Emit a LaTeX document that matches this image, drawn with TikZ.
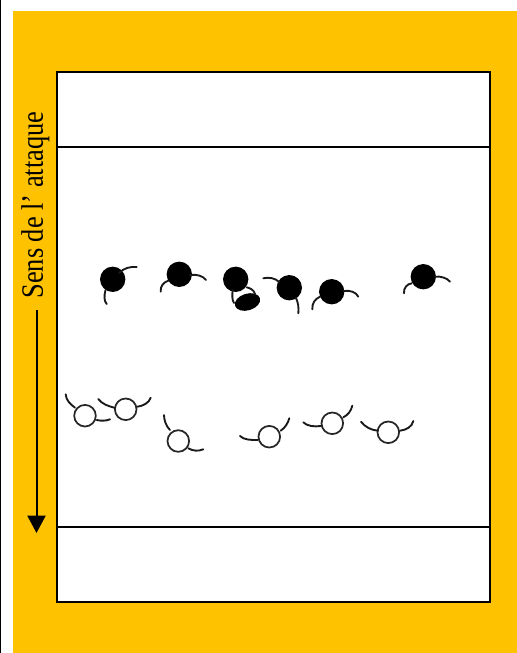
\documentclass[tikz,border=0pt]{standalone}
\usepackage{fontspec}
\setmainfont{Liberation Serif}
\usetikzlibrary{shapes.geometric,arrows.meta}
\definecolor{pageorange}{HTML}{FFC200}
\tikzset{
  x=0.75pt,y=-0.75pt,
  pitch/.style={draw=black,fill=white,line width=1.2pt},
  line/.style={draw=black,line width=1.2pt},
  blackp/.style={circle,fill=black,minimum size=19pt,inner sep=0pt,outer sep=0pt},
  whitep/.style={circle,draw=black!85,fill=white,line width=1.3pt,minimum size=16.2pt,inner sep=0pt,outer sep=0pt},
  arm/.style={draw=black!90,line width=1.4pt,line cap=round},
}
\begin{document}
\begin{tikzpicture}
\useasboundingbox (0,0) rectangle (517,653);
\fill[white] (0,0) rectangle (517,653);
\fill[black] (0,0) rectangle (1,653);
\fill[pageorange] (13,11) rectangle (517,653);
\path[pitch] (57,72) rectangle (490,602);
\coordinate (la) at (57,147); \coordinate (lb) at (490,147);
\coordinate (lc) at (57,527); \coordinate (ld) at (490,527);
\draw[line] (la) -- (lb);
\draw[line] (lc) -- (ld);
% attack label and arrow
\node[rotate=90,inner sep=0pt,font=\fontsize{22}{22}\selectfont,xscale=0.9,yscale=1.06] (sens) at (35.5,205) {Sens de l’ attaque};
\coordinate (as) at (36.5,310); \coordinate (ae) at (36.5,533);
\draw[line width=1.5pt,-{Triangle[length=13pt,width=13.5pt]}] (as) -- (ae);
% black players
\node[blackp] (b1) at (112.7,279.3) {};
\node[blackp] (b2) at (179.3,274.3) {};
\node[blackp] (b3) at (235.7,279.3) {};
\node[blackp] (b4) at (289.3,287.7) {};
\node[blackp] (b5) at (331.7,291.7) {};
\node[blackp] (b6) at (423.3,276.7) {};
\node[ellipse,fill=black,minimum width=19.5pt,minimum height=12.5pt,inner sep=0pt,rotate=17] (ball) at (247.5,302) {};
\draw[arm] (119,273) .. controls (124,268) and (130,266.5) .. (136.7,267);
\draw[arm] (105.5,290) .. controls (104,296) and (104,301) .. (106.7,304);
\draw[arm] (168.3,280.7) .. controls (164,282) and (160,286) .. (160.7,291.7);
\draw[arm] (190,275) .. controls (197,274) and (203,276) .. (206,280);
\draw[arm] (232.7,290) .. controls (232,295) and (232,300) .. (234,303);
\draw[arm] (246.7,287.3) .. controls (250,288) and (254,290) .. (255,294);
\draw[arm] (279.3,282) .. controls (275,278) and (269,277) .. (263.3,278.3);
\draw[arm] (296,298) .. controls (298,302) and (299,308) .. (298.3,313.3);
\draw[arm] (320,296.7) .. controls (315,299) and (312,303) .. (312.3,309.3);
\draw[arm] (343.3,291) .. controls (350,290) and (356,292) .. (358.3,296.7);
\draw[arm] (411.7,283.3) .. controls (407,284) and (403.5,288) .. (404,293.3);
\draw[arm] (435,276.7) .. controls (441,276) and (447,278) .. (450,281.7);
% white players
\node[whitep] (w1) at (85,415.7) {};
\node[whitep] (w2) at (125.7,409.3) {};
\node[whitep] (w3) at (178.3,441) {};
\node[whitep] (w4) at (269.3,436.7) {};
\node[whitep] (w5) at (332.3,423.3) {};
\node[whitep] (w6) at (388.3,432.3) {};
\draw[arm] (75,407.7) .. controls (70,404) and (66,400) .. (65.7,394.3);
\draw[arm] (96.7,420) .. controls (101,421) and (106,421) .. (110,419.3);
\draw[arm] (114.3,407.7) .. controls (108,406) and (102,404) .. (98.3,399);
\draw[arm] (137.3,406.7) .. controls (143,406) and (149,403) .. (150.7,397.7);
\draw[arm] (170,430) .. controls (166,426) and (164,420) .. (164,415);
\draw[arm] (188.3,448.3) .. controls (193,451) and (198,451.5) .. (203.3,449.3);
\draw[arm] (257.7,440) .. controls (251,440) and (244,440) .. (240,436);
\draw[arm] (280.7,430.7) .. controls (285,428) and (288,423) .. (289.3,418.3);
\draw[arm] (321,426) .. controls (314,427) and (307,426) .. (303.3,422.3);
\draw[arm] (343.3,417.3) .. controls (348,415) and (351,411) .. (352.3,405.7);
\draw[arm] (377.7,430.7) .. controls (371,430) and (365,427) .. (361,421.7);
\draw[arm] (400,430.7) .. controls (406,430) and (412,427) .. (413.3,421);
\end{tikzpicture}
\end{document}
